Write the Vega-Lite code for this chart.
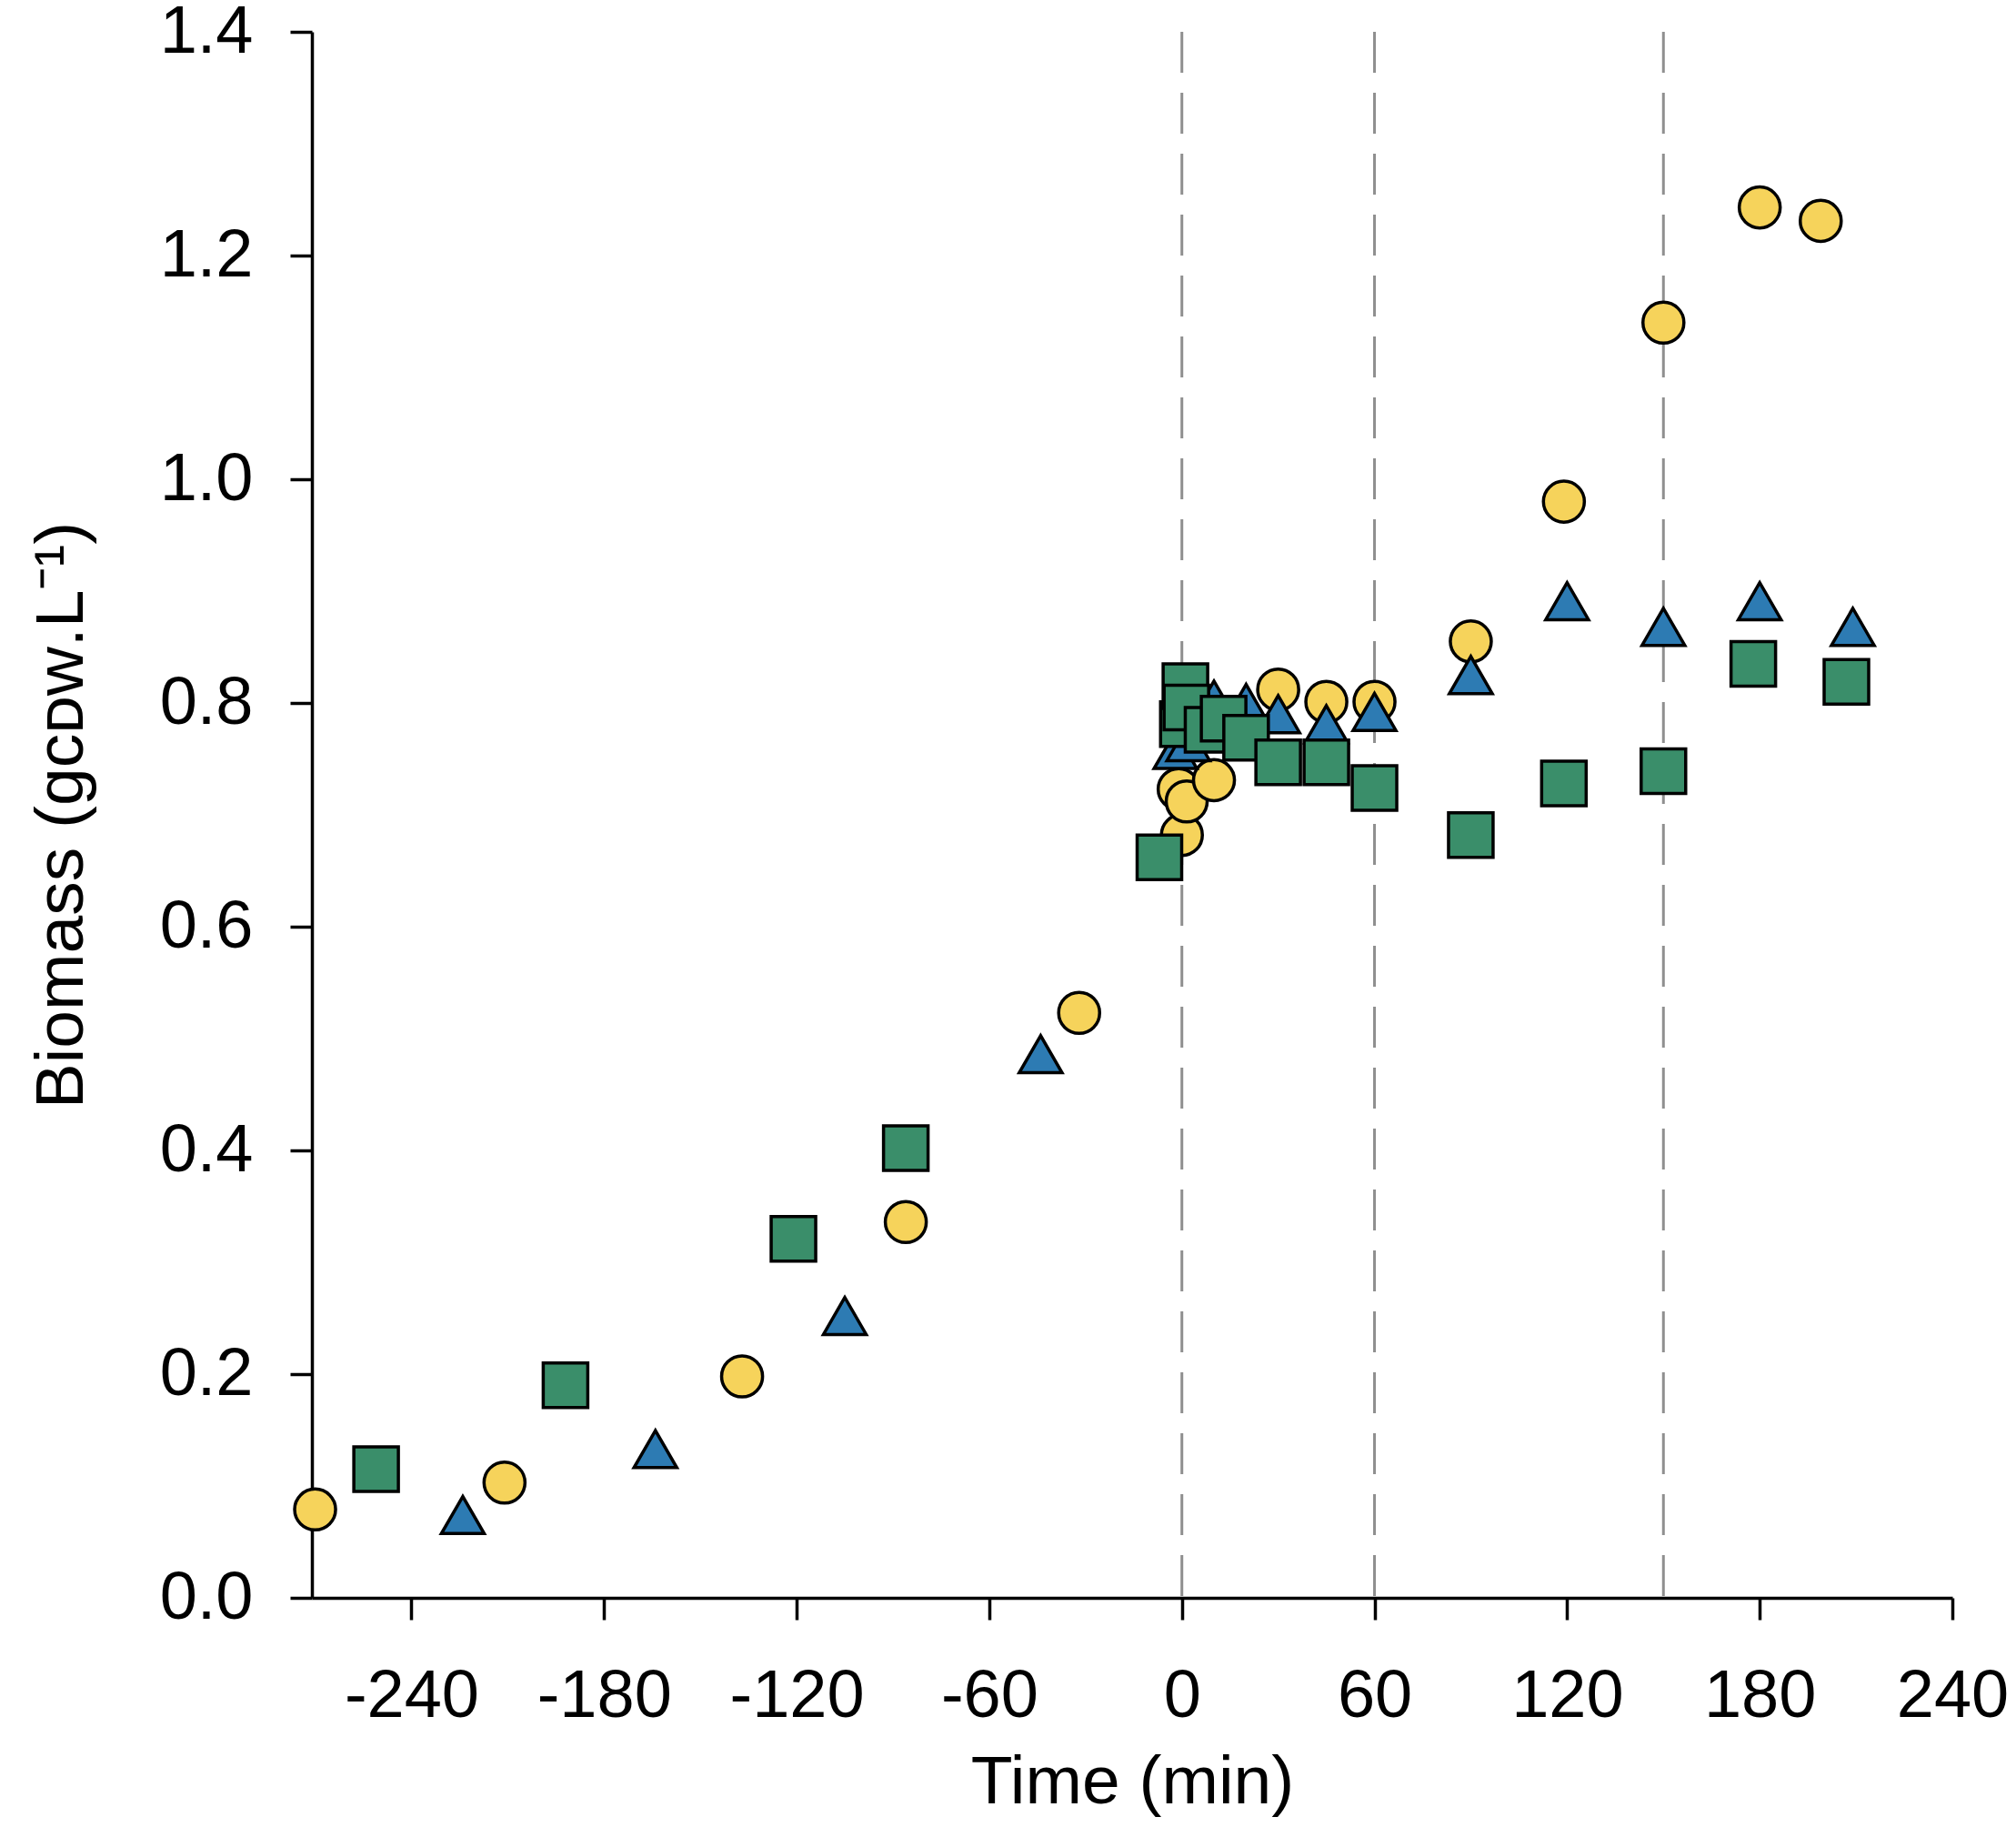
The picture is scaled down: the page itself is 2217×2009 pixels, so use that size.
{
  "$schema": "https://vega.github.io/schema/vega-lite/v6.json",
  "width": 1804,
  "height": 1722,
  "autosize": "none",
  "padding": {"left": 343, "top": 35, "right": 70, "bottom": 252},
  "background": "white",
  "datasets": {
    "biomass": [
      {"series": "A", "time": -270, "biomass": 0.079},
      {"series": "A", "time": -211, "biomass": 0.103},
      {"series": "A", "time": -137, "biomass": 0.198},
      {"series": "A", "time": -86, "biomass": 0.336},
      {"series": "A", "time": -32, "biomass": 0.523},
      {"series": "A", "time": 0, "biomass": 0.682},
      {"series": "A", "time": -1, "biomass": 0.723},
      {"series": "A", "time": 1.5, "biomass": 0.712},
      {"series": "A", "time": 10, "biomass": 0.731},
      {"series": "A", "time": 30, "biomass": 0.812},
      {"series": "A", "time": 45, "biomass": 0.801},
      {"series": "A", "time": 60, "biomass": 0.801},
      {"series": "A", "time": 90, "biomass": 0.855},
      {"series": "A", "time": 119, "biomass": 0.98},
      {"series": "A", "time": 150, "biomass": 1.14},
      {"series": "A", "time": 180, "biomass": 1.243},
      {"series": "A", "time": 199, "biomass": 1.231},
      {"series": "B", "time": -224, "biomass": 0.074},
      {"series": "B", "time": -164, "biomass": 0.133},
      {"series": "B", "time": -105, "biomass": 0.252},
      {"series": "B", "time": -44, "biomass": 0.486},
      {"series": "B", "time": -2, "biomass": 0.758},
      {"series": "B", "time": 2, "biomass": 0.765},
      {"series": "B", "time": 10, "biomass": 0.803},
      {"series": "B", "time": 20, "biomass": 0.8},
      {"series": "B", "time": 30, "biomass": 0.79},
      {"series": "B", "time": 45, "biomass": 0.781},
      {"series": "B", "time": 60, "biomass": 0.792},
      {"series": "B", "time": 90, "biomass": 0.825},
      {"series": "B", "time": 120, "biomass": 0.891},
      {"series": "B", "time": 150, "biomass": 0.868},
      {"series": "B", "time": 180, "biomass": 0.891},
      {"series": "B", "time": 209, "biomass": 0.868},
      {"series": "C", "time": -251, "biomass": 0.115},
      {"series": "C", "time": -192, "biomass": 0.19},
      {"series": "C", "time": -121, "biomass": 0.321},
      {"series": "C", "time": -86, "biomass": 0.402},
      {"series": "C", "time": -7, "biomass": 0.662},
      {"series": "C", "time": 0.3, "biomass": 0.781},
      {"series": "C", "time": 1.1, "biomass": 0.815},
      {"series": "C", "time": 1.4, "biomass": 0.796},
      {"series": "C", "time": 8, "biomass": 0.776},
      {"series": "C", "time": 13, "biomass": 0.786},
      {"series": "C", "time": 20, "biomass": 0.769},
      {"series": "C", "time": 30, "biomass": 0.747},
      {"series": "C", "time": 45, "biomass": 0.747},
      {"series": "C", "time": 60, "biomass": 0.724},
      {"series": "C", "time": 90, "biomass": 0.682},
      {"series": "C", "time": 119, "biomass": 0.728},
      {"series": "C", "time": 150, "biomass": 0.739},
      {"series": "C", "time": 178, "biomass": 0.835},
      {"series": "C", "time": 207, "biomass": 0.819}
    ],
    "markers": [
      {"time": 0},
      {"time": 60},
      {"time": 150}
    ]
  },
  "layer": [
    {
      "data": {"name": "markers"},
      "mark": {"type": "rule", "color": "#8f8f8f", "strokeWidth": 3, "strokeDash": [45, 22]},
      "encoding": {
        "x": {"field": "time", "type": "quantitative"}
      }
    },
    {
      "data": {"name": "biomass"},
      "mark": {"type": "point", "filled": true, "opacity": 1, "stroke": "black", "strokeWidth": 3.5},
      "encoding": {
        "x": {
          "field": "time",
          "type": "quantitative",
          "title": "Time (min)",
          "scale": {"domain": [-271, 240], "nice": false, "zero": false},
          "axis": {
            "values": [-240, -180, -120, -60, 0, 60, 120, 180, 240],
            "labelExpr": "replace(datum.label, '\u2212', '-')",
            "titleY": 225
          }
        },
        "y": {
          "field": "biomass",
          "type": "quantitative",
          "title": "Biomass (gᴄᴅᴡ.L⁻¹)",
          "scale": {"domain": [0, 1.4], "nice": false},
          "axis": {"values": [0, 0.2, 0.4, 0.6, 0.8, 1.0, 1.2, 1.4], "format": ".1f", "titleX": -253, "titleY": 861}
        },
        "shape": {
          "field": "series",
          "type": "nominal",
          "scale": {"domain": ["A", "B", "C"], "range": ["circle", "triangle-up", "square"]},
          "legend": null
        },
        "size": {
          "field": "series",
          "type": "nominal",
          "scale": {"domain": ["A", "B", "C"], "range": [2030, 2400, 1450]},
          "legend": null
        },
        "color": {
          "field": "series",
          "type": "nominal",
          "scale": {"domain": ["A", "B", "C"], "range": ["#f6d35b", "#2d7bb3", "#3a8e6a"]},
          "legend": null
        }
      }
    }
  ],
  "config": {
    "view": {"stroke": null},
    "axis": {
      "grid": false,
      "domainColor": "black",
      "domainWidth": 3.5,
      "tickColor": "black",
      "tickWidth": 3.5,
      "tickSize": 24,
      "labelFont": "Liberation Sans",
      "labelFontSize": 74,
      "labelColor": "black",
      "titleFont": "Liberation Sans",
      "titleFontSize": 75,
      "titleFontWeight": "normal",
      "titleColor": "black",
      "titleBaseline": "alphabetic"
    },
    "axisX": {"labelPadding": 48, "labelFlush": false},
    "axisY": {"labelPadding": 41}
  }
}
